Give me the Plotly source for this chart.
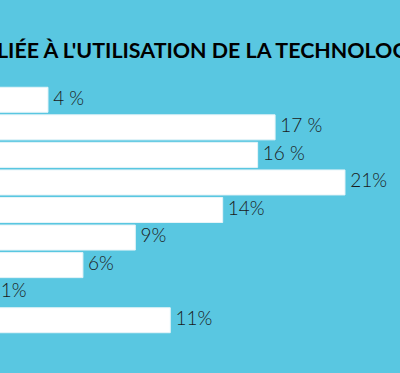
import plotly.graph_objects as go

categories = ["c1", "c2", "c3", "c4", "c5", "c6", "c7", "c8", "c9"]
values = [4, 17, 16, 21, 14, 9, 6, 1, 11]
labels = ["4 %", "17 %", "16 %", "21%", "14%", "9%", "6%", "1%", "11%"]
title_text = "LIÉE À L'UTILISATION DE LA TECHNOLOGIE"

BG = "#59C7E1"

fig = go.Figure()
fig.add_trace(go.Bar(
    x=values,
    y=categories,
    orientation="h",
    marker=dict(color="white", line=dict(color="#E6F4F8", width=1)),
    hoverinfo="skip",
))
fig.add_trace(go.Scatter(
    x=values,
    y=categories,
    mode="text",
    text=["\u00a0" + t for t in labels],
    textposition="middle right",
    textfont=dict(family="Lato", size=19, color="#1a1a1a", weight=300),
    cliponaxis=True,
    hoverinfo="skip",
))

fig.update_layout(
    width=400,
    height=373,
    margin=dict(l=0, r=0, t=86, b=39),
    paper_bgcolor=BG,
    plot_bgcolor=BG,
    bargap=0.093,
    showlegend=False,
    xaxis=dict(range=[1.254, 24.15], visible=False, fixedrange=True),
    yaxis=dict(autorange="reversed", visible=False, fixedrange=True),
    annotations=[dict(
        text=title_text,
        xref="paper", yref="paper",
        x=-0.0125, y=1.145,
        xanchor="left", yanchor="middle",
        showarrow=False,
        font=dict(family="Lato", size=21.4, color="#000000", weight=700),
    )],
)

fig.write_html(
    "out.html",
    config={"displayModeBar": False},
    post_script="document.body.style.margin='0';document.body.style.background='" + BG + "';",
)
